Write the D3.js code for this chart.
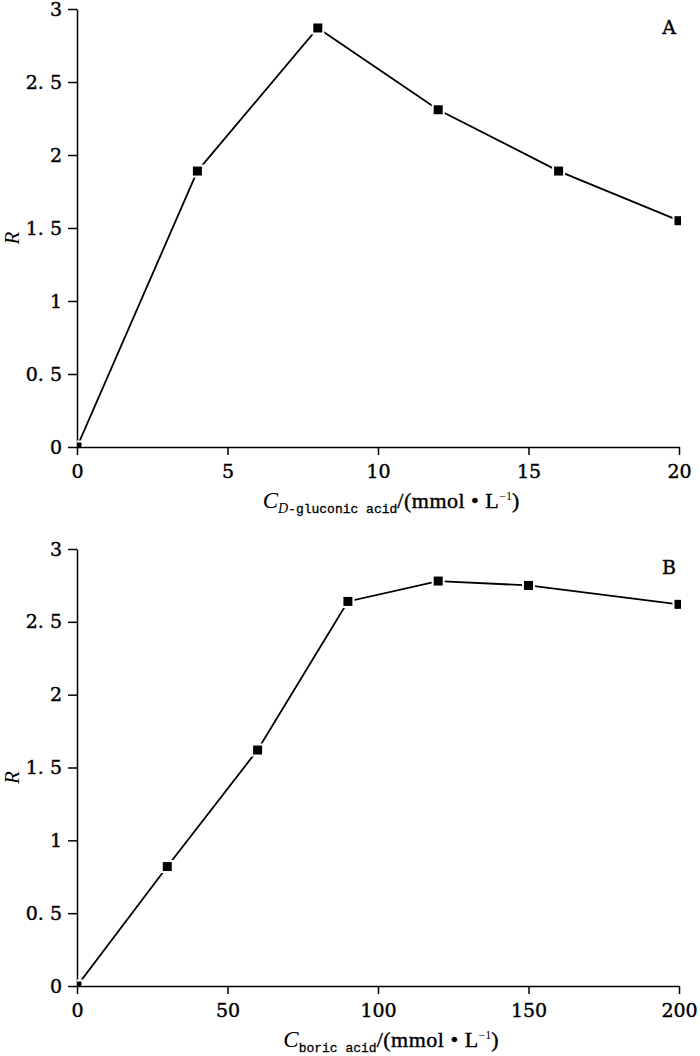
<!DOCTYPE html>
<html>
<head>
<meta charset="utf-8">
<script src="https://cdn.jsdelivr.net/npm/d3@7"></script>
<style>
  body { margin: 0; background: #fff; }
  svg { display: block; }
</style>
</head>
<body>
<div id="chart"></div>
<script>
// Panel A data: D-gluconic acid concentration vs R
const concGluconic = [0, 4, 8, 12, 16, 20];
const rGluconic = [0, 1.89, 2.87, 2.31, 1.89, 1.55];

// Panel B data: boric acid concentration vs R
const concBoric = [0, 30, 60, 90, 120, 150, 200];
const rBoric = [0, 0.82, 1.62, 2.64, 2.78, 2.75, 2.62];

const xTicksA = [0, 5, 10, 15, 20];
const xTicksB = [0, 50, 100, 150, 200];
const yTicks = [0, 0.5, 1, 1.5, 2, 2.5, 3];

const width = 700;
const height = 1056;
const left = 77;
const right = 679;

const svg = d3
  .select("#chart")
  .append("svg")
  .attr("width", width)
  .attr("height", height)
  .attr("viewBox", [0, 0, width, height]);

const tickFont = "'DejaVu Serif', 'Liberation Serif', serif";

// y tick labels show a gap after the decimal point, as in the source
const yFormat = (d) => String(d).replace(".", ". ");

const styleTicks = (a) =>
  a
    .selectAll("text")
    .style("font-family", tickFont)
    .style("font-size", "19px")
    .attr("fill", "#000")
    .attr("stroke", "#000")
    .attr("stroke-width", 0.4);

function drawPanel(id, xs, ys, xMax, xTicks, top, bottom, letter, subscript) {
  const data = xs.map((x, i) => ({ x, y: ys[i] }));

  const x = d3.scaleLinear().domain([0, xMax]).range([left, right]);
  const y = d3.scaleLinear().domain([0, 3]).range([bottom, top]);

  const g = svg.append("g").attr("class", "panel-" + id);

  g.append("clipPath")
    .attr("id", "clip-" + id)
    .append("rect")
    .attr("x", left)
    .attr("y", 0)
    .attr("width", right + 2 - left)
    .attr("height", bottom);

  // x axis
  g.append("g")
    .attr("transform", `translate(0,${bottom})`)
    .call(d3.axisBottom(x).tickValues(xTicks).tickSize(8).tickPadding(10).tickSizeOuter(0))
    .call((a) => a.select(".domain").attr("stroke-width", 1.5))
    .call((a) => a.selectAll(".tick line").attr("stroke-width", 1.5))
    .call(styleTicks);

  // y axis
  g.append("g")
    .attr("transform", `translate(${left},0)`)
    .call(d3.axisLeft(y).tickValues(yTicks).tickFormat(yFormat).tickSize(9).tickPadding(6).tickSizeOuter(0))
    .call((a) => a.select(".domain").attr("stroke-width", 1.5))
    .call((a) => a.selectAll(".tick line").attr("stroke-width", 1.5))
    .call(styleTicks);

  const plot = g.append("g").attr("clip-path", `url(#clip-${id})`);

  const line = d3
    .line()
    .x((d) => x(d.x))
    .y((d) => y(d.y));

  plot
    .append("path")
    .datum(data)
    .attr("d", line)
    .attr("fill", "none")
    .attr("stroke", "#000")
    .attr("stroke-width", 1.8);

  plot
    .selectAll("rect.marker")
    .data(data)
    .join("rect")
    .attr("class", "marker")
    .attr("x", (d) => x(d.x) - 5.5)
    .attr("y", (d) => y(d.y) - 5.5)
    .attr("width", 11)
    .attr("height", 11)
    .attr("fill", "#000")
    .attr("stroke", "#fff")
    .attr("stroke-width", 2);

  // panel letter
  g.append("text")
    .attr("x", 669)
    .attr("y", top + 25)
    .attr("text-anchor", "middle")
    .style("font-family", tickFont)
    .style("font-size", "19px")
    .attr("stroke", "#000")
    .attr("stroke-width", 0.4)
    .text(letter);

  // y axis title
  g.append("text")
    .attr("transform", `translate(19,${(top + bottom) / 2 + 10}) rotate(-90)`)
    .attr("text-anchor", "middle")
    .style("font-family", "'Liberation Serif', serif")
    .style("font-style", "italic")
    .style("font-size", "21px")
    .text("R");

  // x axis title
  const title = g
    .append("text")
    .attr("x", 391)
    .attr("y", bottom + 61)
    .attr("text-anchor", "middle")
    .style("font-family", "'Liberation Serif', serif")
    .style("font-size", "22px");

  title.append("tspan").style("font-style", "italic").style("font-size", "23px").text("C");
  subscript(title);
  title
    .append("tspan")
    .attr("dy", -5)
    .attr("stroke", "#000")
    .attr("stroke-width", 0.4)
    .style("letter-spacing", "0.5px")
    .text("/(mmol • L");
  title.append("tspan").attr("dy", -8).style("font-size", "12px").text("−1");
  title.append("tspan").attr("dy", 8).attr("stroke", "#000").attr("stroke-width", 0.4).text(")");
}

const mono = "'Liberation Mono', monospace";

drawPanel("a", concGluconic, rGluconic, 20, xTicksA, 9, 447, "A", (t) => {
  t.append("tspan")
    .attr("dy", 5)
    .style("font-family", "'Liberation Serif', serif")
    .style("font-style", "italic")
    .style("font-size", "14px")
    .text("D");
  t.append("tspan")
    .style("font-family", mono)
    .style("font-size", "13px")
    .attr("stroke", "#000")
    .attr("stroke-width", 0.3)
    .text("-gluconic acid");
});

drawPanel("b", concBoric, rBoric, 200, xTicksB, 549, 986, "B", (t) => {
  t.append("tspan")
    .attr("dy", 5)
    .style("font-family", mono)
    .style("font-size", "13px")
    .attr("stroke", "#000")
    .attr("stroke-width", 0.3)
    .text("boric acid");
});
</script>
</body>
</html>
